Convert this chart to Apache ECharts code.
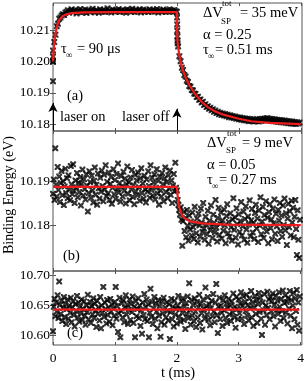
<!DOCTYPE html>
<html><head><meta charset="utf-8">
<script src="https://cdn.jsdelivr.net/npm/echarts@6/dist/echarts.min.js"></script>
<style>html,body{margin:0;padding:0;background:#fff}#c{width:307px;height:381px}</style>
</head><body><div id="c"></div>
<script>
// ---------- DATA ----------
const xTicks = [0, 1, 2, 3, 4];
const aTicks = [10.18, 10.19, 10.20, 10.21];
const bTicks = [10.18, 10.19];
const cTicks = [10.60, 10.65, 10.70];

const aStep = 0.02;      // sampling of panel (a) data (ms)
const bcStep = 0.0125;   // sampling of panels (b),(c) data (ms)

// panel (a): measured binding energy (eV)
const aVals = [
10.2000,10.2062,10.2085,10.2112,10.2120,10.2136,10.2140,10.2146,10.2150,10.2148,10.2155,
10.2158,10.2163,10.2155,10.2161,10.2166,10.2157,10.2160,10.2164,10.2153,10.2162,
10.2159,10.2167,10.2156,10.2161,10.2158,10.2165,10.2154,10.2163,10.2160,10.2157,
10.2162,10.2168,10.2159,10.2156,10.2163,10.2161,10.2155,10.2166,10.2160,10.2158,
10.2164,10.2157,10.2162,10.2169,10.2159,10.2161,10.2156,10.2165,10.2162,10.2158,
10.2163,10.2160,10.2167,10.2157,10.2161,10.2164,10.2158,10.2162,10.2155,10.2166,
10.2160,10.2163,10.2158,10.2168,10.2161,10.2157,10.2164,10.2159,10.2162,10.2166,
10.2156,10.2161,10.2165,10.2158,10.2163,10.2160,10.2157,10.2166,10.2162,10.2159,
10.2164,10.2158,10.2161,10.2167,10.2156,10.2163,10.2160,10.2158,10.2165,10.2161,
10.2157,10.2163,10.2159,10.2166,10.2160,10.2162,10.2157,10.2164,10.2160,
10.2158,
10.2048,10.2017,10.2001,10.1980,10.1973,10.1957,10.1952,10.1939,10.1935,10.1922,
10.1920,10.1909,10.1908,10.1898,10.1897,10.1887,10.1888,10.1878,10.1879,10.1870,
10.1872,10.1862,10.1864,10.1855,10.1858,10.1850,10.1853,10.1845,10.1848,10.1840,
10.1844,10.1836,10.1840,10.1832,10.1837,10.1830,10.1835,10.1828,10.1833,10.1826,
10.1831,10.1823,10.1829,10.1822,10.1827,10.1820,10.1825,10.1818,10.1823,10.1816,
10.1822,10.1815,10.1820,10.1813,10.1819,10.1812,10.1818,10.1810,10.1817,10.1811,
10.1816,10.1809,10.1815,10.1810,10.1816,10.1809,10.1817,10.1811,10.1818,10.1812,
10.1819,10.1813,10.1820,10.1814,10.1818,10.1811,10.1817,10.1810,10.1816,10.1809,
10.1815,10.1808,10.1814,10.1807,10.1813,10.1806,10.1812,10.1805,10.1811,10.1804,
10.1810,10.1803,10.1809,10.1802,10.1808,10.1801,10.1807,10.1803,10.1806
];
// extra points on the two fast edges of panel (a)
const aExtraT = [0, 0, 0, 0, 2.003, 2.005, 2.006, 2.008, 2.010, 2.012];
const aExtraV = [10.1937, 10.1999, 10.2016, 10.2035, 10.2140, 10.2118, 10.2098, 10.2080, 10.2066, 10.2058];

// panel (b)
const bVals = [
10.1872,10.1905,10.1858,10.1977,10.1893,10.1866,10.1934,10.1881,10.1912,10.1853,
10.1897,10.1925,10.1869,10.1901,10.1846,10.1889,10.1930,10.1874,10.1908,10.1862,
10.1915,10.1883,10.1857,10.1936,10.1894,10.1871,10.1940,10.1879,10.1851,10.1903,
10.1887,10.1920,10.1864,10.1898,10.1876,10.1911,10.1845,10.1895,10.1928,10.1868,
10.1906,10.1883,10.1859,10.1917,10.1891,10.1831,10.1874,10.1924,10.1899,10.1863,
10.1914,10.1880,10.1852,10.1902,10.1933,10.1870,10.1893,10.1847,10.1919,10.1885,
10.1861,10.1909,10.1877,10.1926,10.1890,10.1855,10.1916,10.1882,10.1938,10.1867,
10.1900,10.1873,10.1921,10.1858,10.1895,10.1911,10.1849,10.1886,10.1929,10.1871,
10.1904,10.1860,10.1918,10.1884,10.1942,10.1875,10.1897,10.1854,10.1913,10.1889,
10.1866,10.1923,10.1879,10.1907,10.1850,10.1894,10.1935,10.1872,10.1899,10.1857,
10.1910,10.1882,10.1927,10.1865,10.1892,10.1848,10.1916,10.1878,10.1903,10.1869,
10.1921,10.1887,10.1856,10.1908,10.1931,10.1874,10.1896,10.1861,10.1914,10.1883,
10.1852,10.1905,10.1877,10.1924,10.1890,10.1863,10.1938,10.1881,10.1909,10.1868,
10.1898,10.1917,10.1859,10.1886,10.1929,10.1873,10.1902,10.1847,10.1912,10.1880,
10.1866,10.1920,10.1894,10.1855,10.1908,10.1933,10.1876,10.1899,10.1862,10.1915,
10.1884,10.1926,10.1870,10.1903,10.1851,10.1891,10.1918,10.1878,10.1944,10.1886,
10.1880,10.1858,10.1846,10.1835,10.1824,10.1841,10.1812,10.1752,10.1809,10.1830,
10.1786,10.1817,10.1772,10.1835,10.1798,10.1764,10.1822,10.1790,10.1808,10.1776,
10.1829,10.1795,10.1768,10.1842,10.1803,10.1781,10.1815,10.1760,10.1826,10.1799,
10.1773,10.1838,10.1806,10.1784,10.1851,10.1792,10.1766,10.1819,10.1801,10.1779,
10.1833,10.1757,10.1810,10.1788,10.1845,10.1797,10.1770,10.1824,10.1805,10.1783,
10.1858,10.1794,10.1762,10.1816,10.1840,10.1777,10.1803,10.1829,10.1769,10.1811,
10.1787,10.1836,10.1799,10.1758,10.1821,10.1848,10.1781,10.1807,10.1773,10.1827,
10.1795,10.1764,10.1813,10.1862,10.1789,10.1818,10.1771,10.1839,10.1802,10.1755,
10.1825,10.1784,10.1809,10.1853,10.1776,10.1797,10.1831,10.1766,10.1814,10.1843,
10.1790,10.1759,10.1820,10.1801,10.1857,10.1774,10.1811,10.1837,10.1783,10.1805,
10.1768,10.1828,10.1847,10.1792,10.1815,10.1761,10.1834,10.1799,10.1864,10.1779,
10.1808,10.1842,10.1770,10.1823,10.1796,10.1855,10.1785,10.1817,10.1758,10.1830,
10.1848,10.1793,10.1813,10.1767,10.1838,10.1804,10.1859,10.1780,10.1826,10.1797,
10.1763,10.1835,10.1810,10.1851,10.1786,10.1822,10.1773,10.1845,10.1800,10.1861,
10.1788,10.1827,10.1754,10.1815,10.1849,10.1795,10.1832,10.1776,10.1856,10.1806,
10.1840,10.1772,10.1819,10.1858,10.1791,10.1731,10.1834,10.1766,10.1724,10.1812
];

// panel (c)
const cVals = [
10.607,10.648,10.661,10.632,10.655,10.640,10.667,10.629,10.690,10.651,
10.636,10.658,10.624,10.646,10.664,10.631,10.653,10.619,10.644,10.660,
10.628,10.650,10.638,10.663,10.622,10.647,10.657,10.634,10.615,10.652,
10.641,10.666,10.630,10.655,10.623,10.648,10.637,10.660,10.626,10.644,
10.657,10.633,10.618,10.651,10.639,10.668,10.627,10.645,10.656,10.621,
10.649,10.635,10.662,10.629,10.653,10.642,10.614,10.658,10.636,10.647,
10.625,10.664,10.612,10.650,10.638,10.681,10.631,10.655,10.644,10.620,
10.659,10.634,10.647,10.623,10.661,10.640,10.652,10.617,10.645,10.633,
10.656,10.681,10.628,10.649,10.606,10.637,10.663,10.597,10.641,10.654,
10.630,10.659,10.622,10.646,10.667,10.635,10.651,10.619,10.643,10.660,
10.626,10.653,10.639,10.665,10.621,10.648,10.597,10.657,10.632,10.644,
10.662,10.629,10.650,10.616,10.642,10.603,10.655,10.634,10.669,10.627,
10.647,10.660,10.624,10.652,10.597,10.638,10.678,10.631,10.656,10.619,
10.645,10.664,10.628,10.653,10.640,10.612,10.659,10.633,10.649,10.598,
10.622,10.657,10.637,10.663,10.618,10.646,10.630,10.655,10.641,10.625,
10.652,10.594,10.639,10.661,10.627,10.648,10.615,10.658,10.635,10.644,
10.620,10.650,10.666,10.631,10.645,10.623,10.657,10.638,10.662,10.626,
10.648,10.611,10.654,10.636,10.665,10.629,10.687,10.643,10.618,10.659,
10.633,10.651,10.624,10.662,10.640,10.614,10.656,10.630,10.647,10.668,
10.621,10.653,10.637,10.610,10.660,10.644,10.628,10.680,10.649,10.635,
10.664,10.626,10.652,10.617,10.645,10.658,10.632,10.669,10.640,10.622,
10.655,10.686,10.634,10.604,10.648,10.663,10.627,10.650,10.638,10.616,
10.659,10.642,10.667,10.629,10.653,10.621,10.646,10.661,10.635,10.650,
10.624,10.657,10.639,10.670,10.631,10.648,10.613,10.664,10.644,10.627,
10.660,10.637,10.653,10.672,10.628,10.649,10.665,10.619,10.656,10.641,
10.668,10.633,10.651,10.625,10.662,10.645,10.674,10.630,10.655,10.616,
10.647,10.666,10.636,10.659,10.621,10.652,10.671,10.639,10.663,10.628,
10.601,10.655,10.642,10.669,10.618,10.650,10.634,10.673,10.646,10.660,
10.627,10.664,10.640,10.657,10.670,10.632,10.651,10.615,10.666,10.643,
10.658,10.636,10.672,10.648,10.624,10.661,10.641,10.675,10.629,10.654,
10.667,10.638,10.656,10.620,10.663,10.645,10.674,10.633,10.659,10.612,
10.650,10.671,10.627,10.662,10.641,10.676,10.618,10.655,10.608,10.665
];

// fit curves (red)
const aFitT = [0,0.01,0.02,0.04,0.06,0.08,0.10,0.15,0.20,0.30,0.50,1.00,2.00,2.005,2.01,2.02,2.04,2.07,2.10,2.15,2.20,2.30,2.40,2.50,2.60,2.75,3.00,3.20,3.50,4.00];
const aFitV = [10.2000,10.2035,10.2058,10.2088,10.2108,10.2122,10.2132,10.2143,10.2149,10.2154,10.2156,10.2157,10.2157,10.2090,10.2065,10.2045,10.2020,10.1990,10.1970,10.1945,10.1925,10.1895,10.1872,10.1855,10.1843,10.1831,10.1818,10.1810,10.1805,10.1801];
const bFitT = [0,2.00,2.01,2.03,2.05,2.08,2.12,2.20,2.40,2.80,4.00];
const bFitV = [10.1888,10.1888,10.1870,10.1848,10.1835,10.1824,10.1816,10.1809,10.1804,10.1801,10.1800];
const cFitT = [0, 3.98];
const cFitV = [10.643, 10.643];

// laser on / off times (ms)
const laserT = [0, 2];

// ---------- CHART ----------
const FONT = '"Liberation Serif", "DejaVu Serif", serif';
const AX = '#555';
const RED = '#ee1d1d';
const XMARK = 'path://M0,0L2.6,0L5,2.4L7.4,0L10,0L10,2.6L7.6,5L10,7.4L10,10L7.4,10L5,7.6L2.6,10L0,10L0,7.4L2.4,5L0,2.6Z';

const pairs = (ts, vs) => vs.map((v, i) => [ts[i], v]);
const sampled = (vs, step) => vs.map((v, i) => [+(i * step).toFixed(4), v]);

const grids = [
  {left: 53, top: 3, width: 249, height: 128},
  {left: 53, top: 131, width: 249, height: 140},
  {left: 53, top: 271, width: 249, height: 74}
].map(g => Object.assign(g, {show: true, borderColor: AX, borderWidth: 1, backgroundColor: 'transparent'}));

const yRange = [[10.1779, 10.2186], [10.1694, 10.2017], [10.5842, 10.7075]];
const yTickSets = [aTicks, bTicks, cTicks];

const xAxes = [], yAxes = [];
[0, 1, 2].forEach(g => {
  ['bottom', 'top'].forEach(pos => {
    const lab = (g === 2 && pos === 'bottom');
    xAxes.push({
      type: 'value', gridIndex: g, position: pos, min: 0, max: 4.02,
      axisLine: {show: false}, splitLine: {show: false},
      axisTick: {show: true, inside: true, length: 3, lineStyle: {color: AX}, customValues: xTicks},
      axisLabel: {show: lab, customValues: xTicks, margin: 6, color: '#000', fontFamily: FONT, fontSize: 13.5,
                  formatter: v => String(Math.round(v))}
    });
  });
  ['left', 'right'].forEach(pos => {
    const lab = pos === 'left';
    yAxes.push({
      type: 'value', gridIndex: g, position: pos, min: yRange[g][0], max: yRange[g][1],
      axisLine: {show: false}, splitLine: {show: false},
      axisTick: {show: true, inside: true, length: 3, lineStyle: {color: AX}, customValues: yTickSets[g]},
      axisLabel: {show: lab, customValues: yTickSets[g], margin: 3, color: '#000', fontFamily: FONT, fontSize: 13.5,
                  formatter: v => v.toFixed(2)}
    });
  });
});

function scatter(g, data) {
  return {type: 'scatter', xAxisIndex: 2 * g, yAxisIndex: 2 * g, data: data,
    symbol: XMARK, symbolSize: 6, itemStyle: {color: '#000'}, silent: true, z: 2};
}
function fit(g, data) {
  return {type: 'line', xAxisIndex: 2 * g, yAxisIndex: 2 * g, data: data, showSymbol: false, symbol: 'none',
    lineStyle: {color: RED, width: 2.2}, silent: true, z: 3};
}

const aScatter = sampled(aVals, aStep).concat(pairs(aExtraT, aExtraV));
const series = [
  scatter(0, aScatter),
  Object.assign(fit(0, pairs(aFitT, aFitV)), {
    markLine: {
      silent: true, symbol: ['none', 'arrow'], symbolSize: [7, 9],
      label: {show: false},
      lineStyle: {color: '#000', width: 1, type: 'solid'},
      data: [
        [{coord: [laserT[0], 10.1780]}, {coord: [laserT[0], 10.1868]}],
        [{coord: [laserT[1], 10.1780]}, {coord: [laserT[1], 10.1850]}]
      ]
    }
  }),
  scatter(1, sampled(bVals, bcStep)),
  fit(1, pairs(bFitT, bFitV)),
  scatter(2, sampled(cVals, bcStep)),
  fit(2, pairs(cFitT, cFitV))
];

function txt(x, y, s, size, align) {
  return {type: 'text', x: x, y: y, silent: true, z: 10,
    style: {text: s, fill: '#000', fontFamily: FONT, fontSize: size, verticalAlign: 'middle', align: align || 'left'}};
}
const F = 14.5, S = 9;
const graphic = [
  // panel a
  txt(203, 13, 'ΔV', F), txt(222, 4, 'tot', S), txt(221, 22, 'SP', S), txt(240, 13, '= 35 meV', F),
  txt(203, 35, 'α = 0.25', F),
  txt(203, 50, 'τ', F), txt(208, 57, '∞', S), txt(215, 50, '= 0.51 ms', F),
  txt(61, 49, 'τ', F), txt(66, 56, '∞', S), txt(77, 49, '= 90 μs', F),
  txt(67, 96, '(a)', F),
  txt(60, 117, 'laser on', F), txt(122, 117, 'laser off', F),
  // panel b
  txt(207, 143, 'ΔV', F), txt(227, 134, 'tot', S), txt(226, 151, 'SP', S), txt(242, 143, '= 9 meV', F),
  txt(207, 165, 'α = 0.05', F),
  txt(207, 180, 'τ', F), txt(212, 187, '∞', S), txt(219, 180, '= 0.27 ms', F),
  txt(63, 256, '(b)', F),
  // panel c
  txt(67, 333, '(c)', F),
  // axis titles
  txt(178, 373, 't (ms)', F, 'center'),
  {type: 'text', x: 9, y: 195, rotation: Math.PI / 2, silent: true, z: 10,
   style: {text: 'Binding Energy (eV)', fill: '#000', fontFamily: FONT, fontSize: 14, verticalAlign: 'middle', align: 'center'}}
];

const chart = echarts.init(document.getElementById('c'), null, {renderer: 'canvas'});
chart.setOption({
  animation: false,
  grid: grids,
  xAxis: xAxes,
  yAxis: yAxes,
  series: series,
  graphic: graphic
});
</script></body></html>
